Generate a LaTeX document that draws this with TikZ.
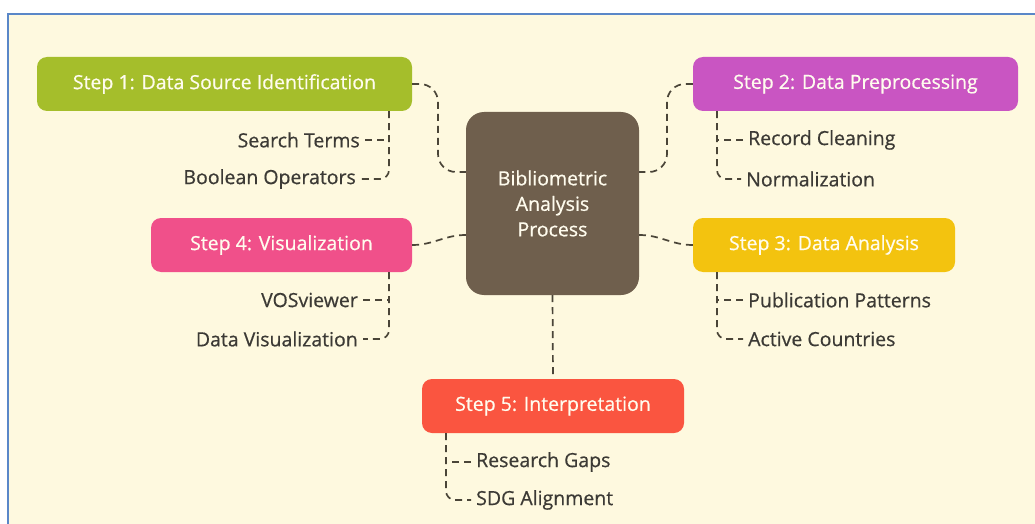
\documentclass[tikz,border=0pt]{standalone}
\usepackage{fontspec}
\setmainfont{Open Sans}[FakeBold=0.6]
\definecolor{paper}{HTML}{FEF9DF}
\definecolor{framec}{HTML}{5A87C8}
\definecolor{cgreen}{HTML}{A5BE2B}
\definecolor{cmagenta}{HTML}{C955C2}
\definecolor{cbrown}{HTML}{6F5F4D}
\definecolor{cpink}{HTML}{F0508A}
\definecolor{cyellow}{HTML}{F3C30F}
\definecolor{cred}{HTML}{FA5540}
\definecolor{subtext}{HTML}{3C3A35}
\definecolor{linkc}{HTML}{4A4538}
\definecolor{lighttext}{HTML}{FFFCEE}
\tikzset{
  stepbox/.style={rectangle, rounded corners=10pt, minimum height=54pt, inner sep=0pt,
    text=lighttext, font=\fontsize{19.5}{22}\selectfont},
  hub/.style={rectangle, rounded corners=18pt, fill=cbrown, minimum width=173pt,
    minimum height=183pt, inner sep=0pt, text=lighttext, align=center,
    font=\fontsize{19.5}{25.5}\selectfont},
  item/.style={text=subtext, inner sep=5pt, font=\fontsize{19.5}{22}\selectfont},
  link/.style={draw=linkc, line width=1.7pt, dash pattern=on 7pt off 5pt},
}
\begin{document}
\begin{tikzpicture}[x=1pt,y=-1pt]
\useasboundingbox (0,0) rectangle (1035,524);
% page and frame
\fill[white] (0,0) rectangle (1035,524);
\fill[paper] (8,14) rectangle (1040,530);
\draw[framec, line width=2pt] (8,530) -- (8,14) -- (1040,14);

% hub
\node[hub] (c) at (552.5,203.5) {Bibliometric\\Analysis\\Process};

% steps
\node[stepbox, fill=cgreen, minimum width=375pt] (s1) at (224.5,84) {Step 1: Data Source Identification};
\node[stepbox, fill=cmagenta, minimum width=325pt] (s2) at (855.5,84) {Step 2: Data Preprocessing};
\node[stepbox, fill=cyellow, minimum width=262pt] (s3) at (824,245) {Step 3: Data Analysis};
\node[stepbox, fill=cpink, minimum width=261pt] (s4) at (281.5,245) {Step 4: Visualization};
\node[stepbox, fill=cred, minimum width=262pt] (s5) at (553,406) {Step 5: Interpretation};

% sub items
\node[item, anchor=east] (st) at (365,140) {Search Terms};
\node[item, anchor=east] (bo) at (361,179) {Boolean Operators};
\node[item, anchor=west] (rc) at (743,140) {Record Cleaning};
\node[item, anchor=west] (nz) at (741,179) {Normalization};
\node[item, anchor=west] (pp) at (743,300) {Publication Patterns};
\node[item, anchor=west] (ac) at (743,339) {Active Countries};
\node[item, anchor=east] (vv) at (363,300) {VOSviewer};
\node[item, anchor=east] (dv) at (363,339) {Data Visualization};
\node[item, anchor=west] (rg) at (471,462) {Research Gaps};
\node[item, anchor=west] (sa) at (471,500) {SDG Alignment};

% trunk positions for the sub-item branches
\coordinate (t1) at (389,0);
\coordinate (t2) at (717,0);
\coordinate (t5) at (446,0);
% hub side ports
\coordinate (cl1) at ([yshift=31.5pt]c.west);
\coordinate (cr1) at ([yshift=31.5pt]c.east);
\coordinate (cl2) at ([yshift=-31.5pt]c.west);
\coordinate (cr2) at ([yshift=-31.5pt]c.east);
\coordinate (j1) at (438,0);
\coordinate (j2) at (667,0);

% hub to steps
\draw[link, rounded corners=18pt] (s1.east) -- (s1.east -| j1) -- (j1 |- cl1) -- (cl1);
\draw[link, rounded corners=18pt] (s2.west) -- (s2.west -| j2) -- (j2 |- cr1) -- (cr1);
\draw[link] (s4.east) to[out=0,in=180] (cl2);
\draw[link] (s3.west) to[out=180,in=0] (cr2);
\draw[link] (c.south) -- (s5.north);

% step branches
\draw[link, rounded corners=9pt] (s1.south -| t1) |- (bo.east);
\draw[link] (st.east) -- (st.east -| t1);
\draw[link, rounded corners=9pt] (s2.south -| t2) |- (nz.west);
\draw[link] (rc.west) -- (rc.west -| t2);
\draw[link, rounded corners=9pt] (s3.south -| t2) |- (ac.west);
\draw[link] (pp.west) -- (pp.west -| t2);
\draw[link, rounded corners=9pt] (s4.south -| t1) |- (dv.east);
\draw[link] (vv.east) -- (vv.east -| t1);
\draw[link, rounded corners=9pt] (s5.south -| t5) |- (sa.west);
\draw[link] (rg.west) -- (rg.west -| t5);
\end{tikzpicture}
\end{document}
